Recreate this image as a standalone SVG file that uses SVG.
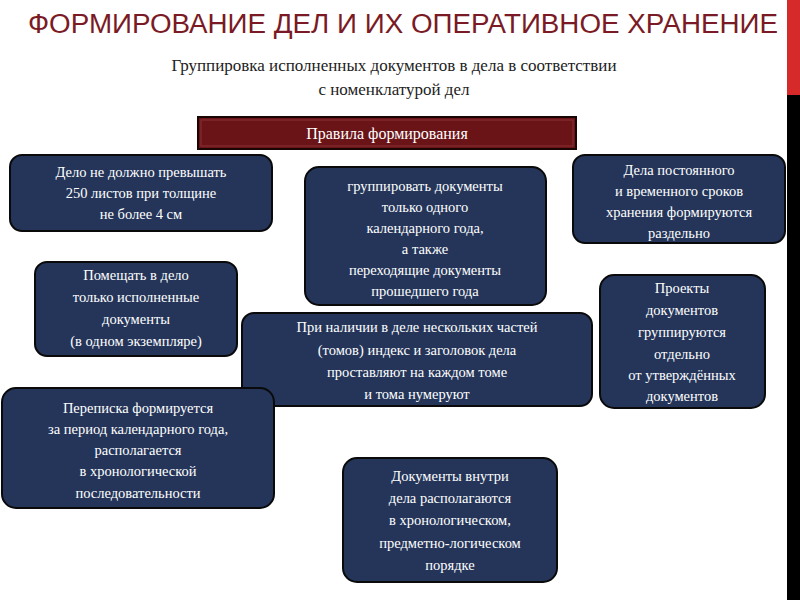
<svg xmlns="http://www.w3.org/2000/svg" width="800" height="600" viewBox="0 0 800 600">
<style>
.b{fill:#243559;stroke:#0a0a0a;stroke-width:2}
.t{font-family:"Liberation Serif","DejaVu Serif",serif;font-size:14.5px;fill:#fff;text-anchor:middle}
</style>
<rect width="800" height="600" fill="#fff"/>
<rect x="787" y="0" width="13" height="95" fill="#d62a2a"/>
<rect x="787" y="95" width="13" height="505" fill="#000"/>
<text x="403" y="33" font-family="Liberation Sans,Arial,sans-serif" font-size="27" fill="#7a1a24" text-anchor="middle" textLength="750" lengthAdjust="spacingAndGlyphs">ФОРМИРОВАНИЕ ДЕЛ И ИХ ОПЕРАТИВНОЕ ХРАНЕНИЕ</text>
<text x="394" y="71" font-family="Liberation Serif,serif" font-size="17" fill="#222" text-anchor="middle">Группировка исполненных документов в дела в соответствии</text>
<text x="394" y="95" font-family="Liberation Serif,serif" font-size="17" fill="#222" text-anchor="middle">с номенклатурой дел</text>
<g id="header">
<rect x="198" y="117" width="378" height="32" fill="#6b1418" stroke="#1a0505" stroke-width="2"/>
<rect x="201" y="120" width="372" height="26" fill="none" stroke="#8a3035" stroke-width="1"/>
<text x="387" y="139" font-family="Liberation Serif,serif" font-size="16" fill="#fff" text-anchor="middle">Правила формирования</text>
</g>
<g id="connectors"></g>
<g id="n1"><rect class="b" x="10" y="155" width="262" height="76" rx="12"/>
<text class="t" x="141" y="177">Дело не должно превышать</text><text class="t" x="141" y="198">250 листов при толщине</text><text class="t" x="141" y="219">не более 4 см</text></g>
<g id="n2"><rect class="b" x="305" y="167" width="241" height="138" rx="14"/>
<text class="t" x="425" y="191">группировать документы</text><text class="t" x="425" y="212">только одного</text><text class="t" x="425" y="233">календарного года,</text><text class="t" x="425" y="254">а также</text><text class="t" x="425" y="275">переходящие документы</text><text class="t" x="425" y="296">прошедшего года</text></g>
<g id="n3"><rect class="b" x="573" y="155" width="212" height="88" rx="12"/>
<text class="t" x="679" y="175">Дела постоянного</text><text class="t" x="679" y="196">и временного сроков</text><text class="t" x="679" y="217">хранения формируются</text><text class="t" x="679" y="238">раздельно</text></g>
<g id="n4"><rect class="b" x="35" y="262" width="202" height="94" rx="12"/>
<text class="t" x="136" y="280">Помещать в дело</text><text class="t" x="136" y="302">только исполненные</text><text class="t" x="136" y="324">документы</text><text class="t" x="136" y="346">(в одном экземпляре)</text></g>
<g id="n5"><rect class="b" x="242" y="313" width="350" height="93" rx="12"/>
<text class="t" x="417" y="332">При наличии в деле нескольких частей</text><text class="t" x="417" y="355">(томов) индекс и заголовок дела</text><text class="t" x="417" y="377">проставляют на каждом томе</text><text class="t" x="417" y="399">и тома нумеруют</text></g>
<g id="n6"><rect class="b" x="600" y="275" width="165" height="133" rx="14"/>
<text class="t" x="682" y="293">Проекты</text><text class="t" x="682" y="315">документов</text><text class="t" x="682" y="337">группируются</text><text class="t" x="682" y="359">отдельно</text><text class="t" x="682" y="380">от утверждённых</text><text class="t" x="682" y="401">документов</text></g>
<g id="n7"><rect class="b" x="2" y="388" width="272" height="120" rx="14"/>
<text class="t" x="138" y="413">Переписка формируется</text><text class="t" x="138" y="434">за период календарного года,</text><text class="t" x="138" y="455">располагается</text><text class="t" x="138" y="476">в хронологической</text><text class="t" x="138" y="498">последовательности</text></g>
<g id="n8"><rect class="b" x="343" y="458" width="214" height="124" rx="14"/>
<text class="t" x="450" y="481">Документы внутри</text><text class="t" x="450" y="503">дела располагаются</text><text class="t" x="450" y="525">в хронологическом,</text><text class="t" x="450" y="548">предметно-логическом</text><text class="t" x="450" y="570">порядке</text></g>
</svg>
